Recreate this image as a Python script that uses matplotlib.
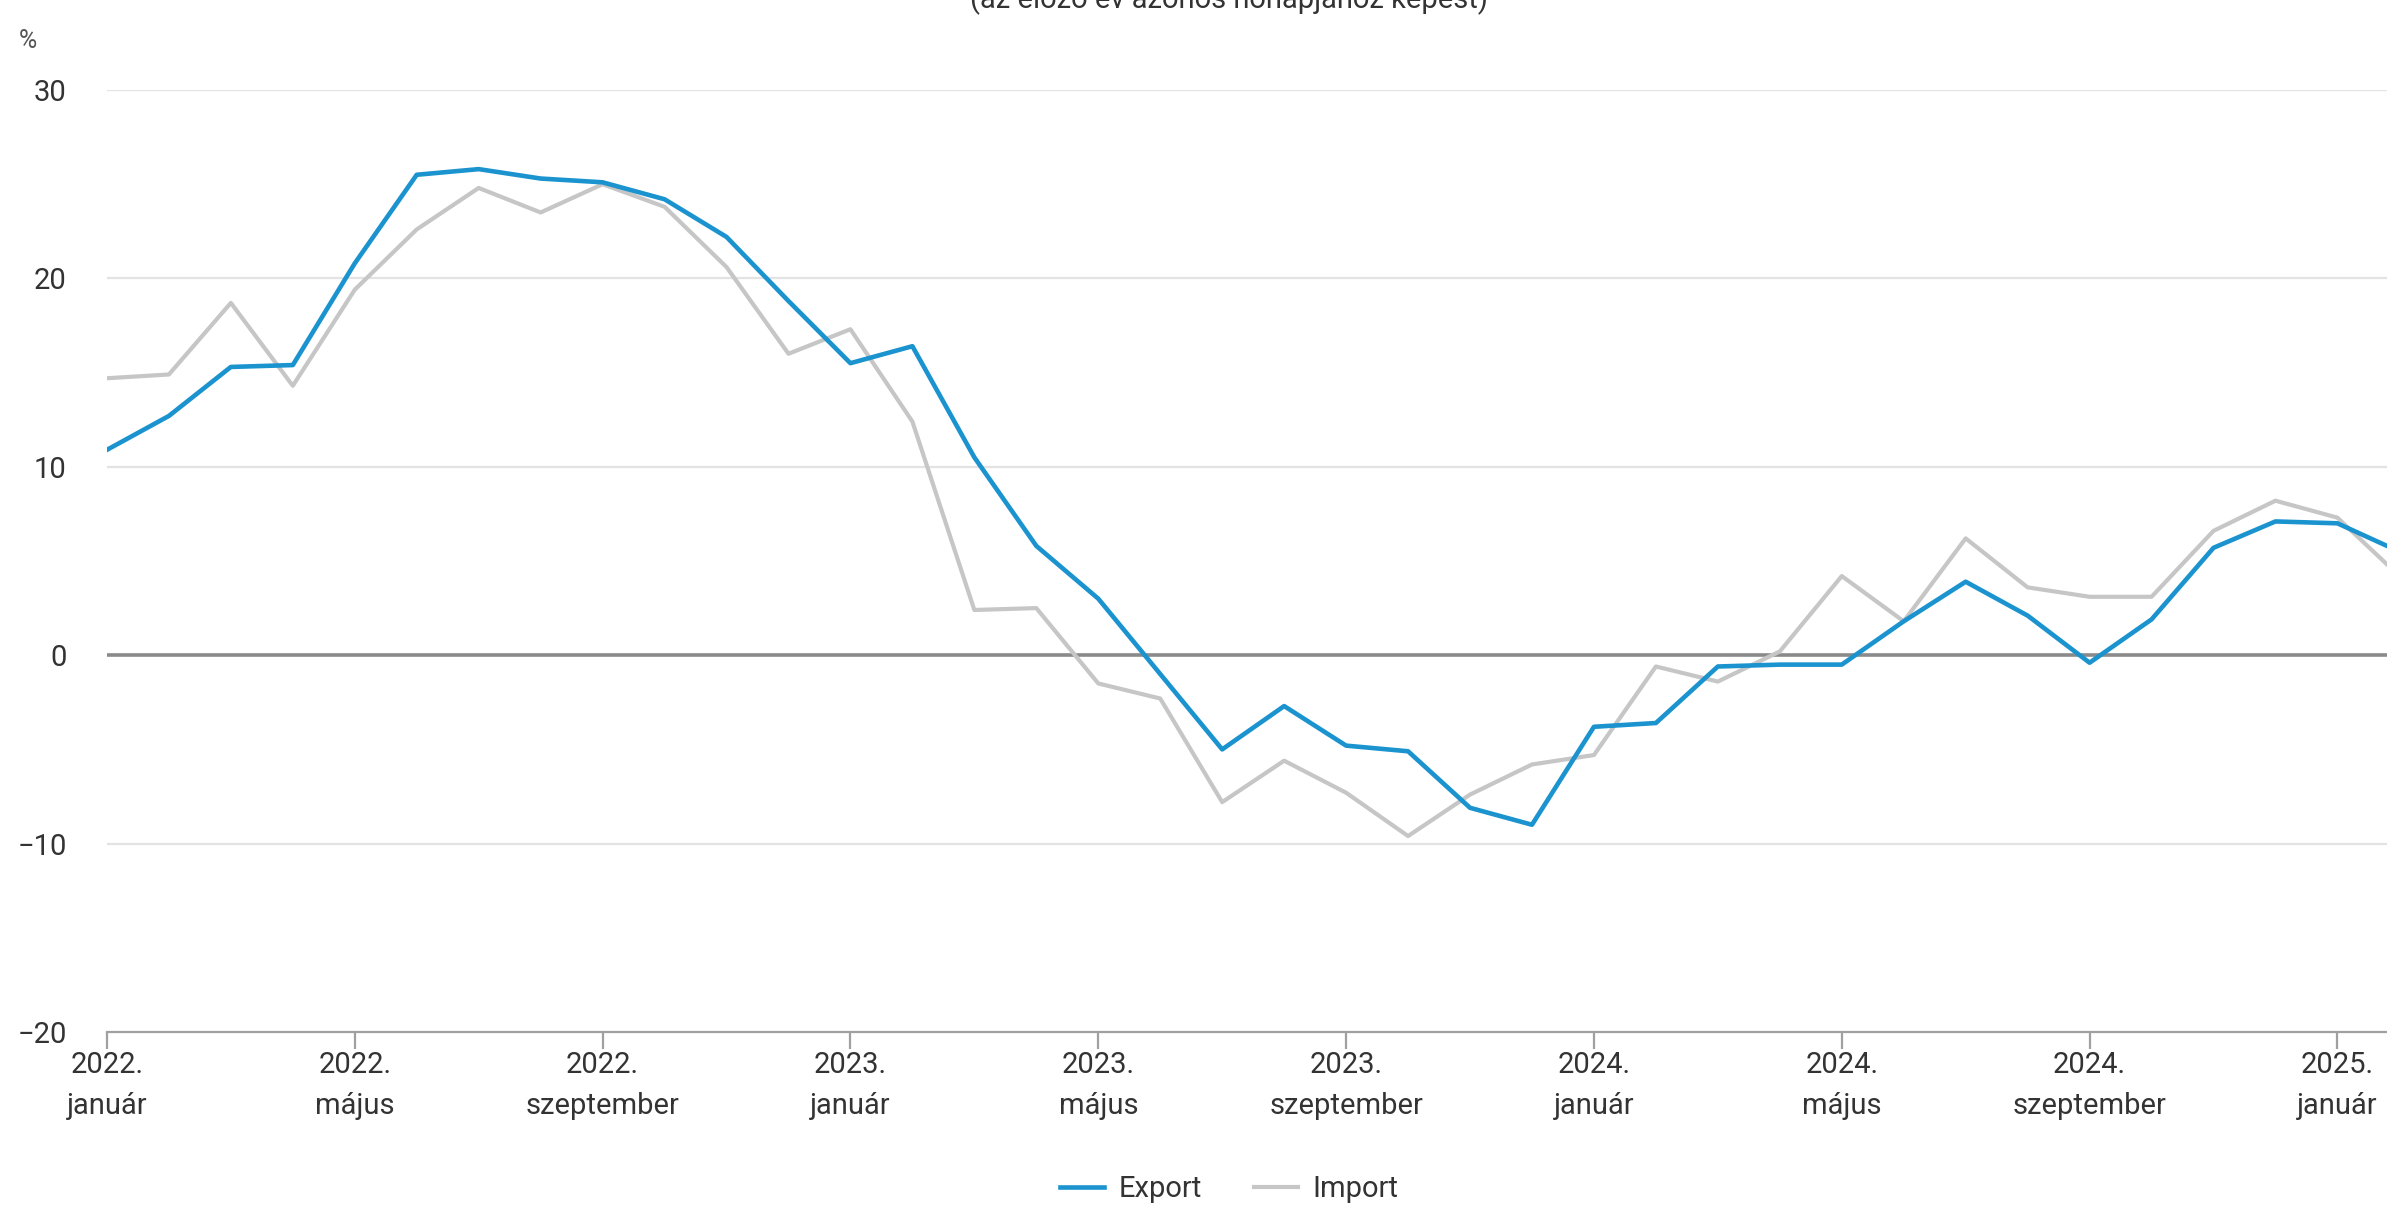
import numpy as np
import matplotlib.pyplot as plt

plt.rcParams['font.family'] = ['Roboto', 'DejaVu Sans']

# havi adatok 2022. január - 2025. február
export_vals = [10.9, 12.7, 15.3, 15.4, 20.8, 25.5, 25.8, 25.3, 25.1, 24.2, 22.2, 18.8,
               15.5, 16.4, 10.5, 5.8, 3.0, -1.0, -5.0, -2.7, -4.8, -5.1, -8.1, -9.0,
               -3.8, -3.6, -0.6, -0.5, -0.5, 1.8, 3.9, 2.1, -0.4, 1.9, 5.7, 7.1,
               7.0, 5.5]
import_vals = [14.7, 14.9, 18.7, 14.3, 19.4, 22.6, 24.8, 23.5, 25.0, 23.8, 20.6, 16.0,
               17.3, 12.4, 2.4, 2.5, -1.5, -2.3, -7.8, -5.6, -7.3, -9.6, -7.4, -5.8,
               -5.3, -0.6, -1.4, 0.2, 4.2, 1.8, 6.2, 3.6, 3.1, 3.1, 6.6, 8.2,
               7.3, 4.2]
tick_months = [0, 4, 8, 12, 16, 20, 24, 28, 32, 36]
tick_labels = ['2022.\njanuár', '2022.\nmájus', '2022.\nszeptember',
               '2023.\njanuár', '2023.\nmájus', '2023.\nszeptember',
               '2024.\njanuár', '2024.\nmájus', '2024.\nszeptember',
               '2025.\njanuár']
y_ticks = [-20, -10, 0, 10, 20, 30]

x = np.arange(len(export_vals))

fig = plt.figure(figsize=(23.87, 12.08), dpi=100)
ax = fig.add_axes([0.0448, 0.1457, 0.9552, 0.7798])

for v in [-10, 10, 20, 30]:
    ax.axhline(v, color='#e3e3e3', lw=1.6, zorder=1)
ax.axhline(0, color='#8a8a8a', lw=2.6, zorder=2)

ax.plot(x, import_vals, color='#c6c6c6', lw=3.0, label='Import', zorder=3)
ax.plot(x, export_vals, color='#1a93cf', lw=3.3, label='Export', zorder=4)

ax.set_xlim(0, 36.8)
ax.set_ylim(-20, 30)
ax.set_yticks(y_ticks)
ax.set_xticks(tick_months)
ax.set_xticklabels(tick_labels, linespacing=1.55)

for s in ['top', 'right', 'left']:
    ax.spines[s].set_visible(False)
ax.spines['bottom'].set_color('#a0a0a0')
ax.spines['bottom'].set_linewidth(1.6)

ax.tick_params(axis='x', length=12, width=1.6, color='#a0a0a0', pad=2,
               labelsize=21, labelcolor='#333333')
ax.tick_params(axis='y', length=0, pad=29, labelsize=21, labelcolor='#333333')

fig.text(0.008, 0.966, '%', fontsize=18, color='#555555', va='center')
fig.text(0.515, 0.9934, '(az előző év azonos hónapjához képest)', fontsize=21,
         color='#333333', ha='center', va='baseline')

h, l = ax.get_legend_handles_labels()
fig.legend([h[1], h[0]], [l[1], l[0]], loc='center', bbox_to_anchor=(0.515, 0.0157),
           ncol=2, frameon=False, fontsize=21, handlelength=1.5,
           handletextpad=0.5, columnspacing=1.8, labelcolor='#333333')

fig.savefig('out.png', dpi=100)
